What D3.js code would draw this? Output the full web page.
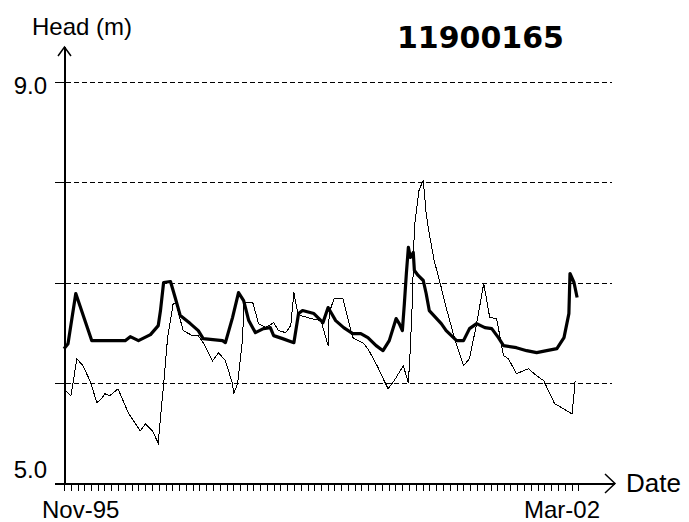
<!DOCTYPE html>
<html lang="en">

<head>
  <meta charset="UTF-8">
  <title>11900165</title>
  <style>
    html,
    body {
      margin: 0;
      padding: 0;
      background: #fff;
    }

    text {
      font-family: 'Liberation Sans', Arial, sans-serif;
      font-size: 24px;
      fill: #000;
    }

    .title {
      font-family: 'DejaVu Sans', sans-serif;
      font-weight: bold;
      font-size: 30px;
    }
  </style>
  <script src="https://cdn.jsdelivr.net/npm/d3@7/dist/d3.min.js"></script>
</head>

<body>
  <svg id="chart"></svg>
  <script>
    //
    // Data
    //

    var wellId = '11900165'
    // simulated head (thick line)
    var simDates = ['1995-11-01', '1995-11-19', '1995-12-24', '1996-03-05', '1996-05-12', '1996-08-02',
      '1996-08-25', '1996-10-01', '1996-11-24', '1996-12-29', '1997-01-08', '1997-01-22', '1997-02-22',
      '1997-03-15', '1997-04-07', '1997-05-22', '1997-06-27', '1997-07-19', '1997-10-14', '1997-10-27',
      '1997-11-28', '1997-12-25', '1998-01-17', '1998-02-09', '1998-03-11', '1998-04-16', '1998-05-17',
      '1998-06-01', '1998-07-11', '1998-08-31', '1998-09-21', '1998-10-09', '1998-11-29', '1999-01-09',
      '1999-02-01', '1999-02-14', '1999-03-07', '1999-04-12', '1999-05-23', '1999-06-28', '1999-07-30',
      '1999-09-05', '1999-10-06', '1999-11-03', '1999-12-04', '1999-12-18', '2000-01-01', '2000-01-10',
      '2000-01-19', '2000-01-28', '2000-02-06', '2000-02-19', '2000-02-24', '2000-03-12', '2000-04-04',
      '2000-04-17', '2000-05-01', '2000-06-24', '2000-07-16', '2000-09-01', '2000-10-02', '2000-10-29',
      '2000-11-30', '2001-01-06', '2001-02-06', '2001-03-08', '2001-03-31', '2001-05-28', '2001-07-13',
      '2001-08-27', '2001-10-11', '2001-11-26', '2001-12-28', '2002-01-19', '2002-01-24', '2002-02-11',
      '2002-02-25']
    var simHead = [6.34, 6.39, 6.89, 6.42, 6.42, 6.42,
      6.46, 6.42, 6.48, 6.57, 6.72, 7.00, 7.01,
      6.85, 6.67, 6.59, 6.52, 6.44, 6.42, 6.40,
      6.65, 6.90, 6.82, 6.62, 6.50, 6.54, 6.55,
      6.47, 6.44, 6.40, 6.69, 6.72, 6.69, 6.60,
      6.75, 6.70, 6.62, 6.55, 6.49, 6.49, 6.45,
      6.37, 6.32, 6.42, 6.64, 6.59, 6.52, 6.79,
      7.09, 7.35, 7.25, 7.30, 7.12, 7.07, 7.02,
      6.89, 6.72, 6.59, 6.52, 6.42, 6.42, 6.54,
      6.59, 6.55, 6.54, 6.45, 6.37, 6.35, 6.32,
      6.30, 6.32, 6.34, 6.45, 6.69, 7.09, 7.00,
      6.85]

    // observed head (thin line)
    var obsDates = ['1995-11-05', '1995-11-19', '1995-12-02', '1995-12-11', '1995-12-29', '1996-01-25',
      '1996-02-26', '1996-03-28', '1996-04-20', '1996-05-03', '1996-05-25', '1996-07-01', '1996-08-16',
      '1996-10-09', '1996-11-01', '1996-12-02', '1996-12-29', '1997-01-12', '1997-01-21', '1997-02-09',
      '1997-02-22', '1997-03-06', '1997-03-19', '1997-04-20', '1997-06-01', '1997-06-27', '1997-07-19',
      '1997-08-30', '1997-09-26', '1997-10-27', '1997-11-28', '1997-12-03', '1997-12-21', '1998-01-13',
      '1998-01-17', '1998-02-27', '1998-03-25', '1998-04-26', '1998-06-01', '1998-06-23', '1998-07-25',
      '1998-08-17', '1998-08-31', '1998-09-18', '1998-10-01', '1998-11-16', '1998-12-31', '1999-02-01',
      '1999-02-06', '1999-02-28', '1999-04-08', '1999-04-30', '1999-05-23', '1999-07-12', '1999-08-04',
      '1999-09-14', '1999-10-11', '1999-10-29', '1999-11-25', '2000-01-05', '2000-01-28', '2000-02-06',
      '2000-02-15', '2000-02-24', '2000-03-16', '2000-04-04', '2000-04-17', '2000-04-26', '2000-05-23',
      '2000-06-24', '2000-07-16', '2000-08-22', '2000-10-02', '2000-10-29', '2000-11-30', '2001-01-01',
      '2001-01-28', '2001-02-28', '2001-03-31', '2001-04-22', '2001-05-28', '2001-07-21', '2001-08-27',
      '2001-09-28', '2001-11-16', '2001-12-19', '2002-02-02', '2002-02-11', '2002-02-16']
    var obsHead = [5.92, 5.90, 5.87, 5.99, 6.24, 6.17,
      6.02, 5.80, 5.85, 5.89, 5.87, 5.94, 5.70,
      5.52, 5.59, 5.52, 5.40, 5.75, 5.95, 6.45,
      6.62, 6.79, 6.79, 6.52, 6.47, 6.47, 6.40,
      6.22, 6.30, 6.22, 5.99, 5.89, 5.99, 6.45,
      6.80, 6.80, 6.59, 6.55, 6.60, 6.52, 6.50,
      6.57, 6.90, 6.69, 6.67, 6.64, 6.62, 6.37,
      6.70, 6.84, 6.84, 6.65, 6.45, 6.39, 6.32,
      6.15, 6.02, 5.94, 6.02, 6.17, 6.00, 6.35,
      6.82, 7.55, 7.92, 8.02, 7.69, 7.55, 7.22,
      6.95, 6.75, 6.45, 6.17, 6.24, 6.59, 6.99,
      6.65, 6.64, 6.27, 6.24, 6.09, 6.14, 6.07,
      6.02, 5.79, 5.75, 5.69, 5.89, 6.02]

    // axes
    var gridValues = [6, 7, 8, 9]
    var yLabelValues = [5, 9]
    var xStart = '1995-11-01'
    var xEnd = '2002-03-01'

    //
    // Variables
    //

    var width = 689
    var height = 522
    var parse = d3.timeParse('%Y-%m-%d')
    var fmtY = d3.format('.1f')
    var fmtX = d3.timeFormat('%b-%y')

    var svg = d3.select('#chart').attr('width', width).attr('height', height)

    var x = d3.scaleTime()
      .domain([parse(xStart), parse(xEnd)])
      .range([64, 578])
    var y = d3.scaleLinear()
      .domain([5, 9])
      .range([483, 82])

    var axisLeft = x.range()[0]
    var axisBottom = y.range()[0]
    var axisRight = 612
    var axisTop = 47

    //
    // Grid
    //

    svg.append('g')
      .selectAll('line')
      .data(gridValues)
      .join('line')
      .attr('x1', axisLeft + 2)
      .attr('x2', axisRight)
      .attr('y1', function (d) { return Math.round(y(d)) + 0.5 })
      .attr('y2', function (d) { return Math.round(y(d)) + 0.5 })
      .attr('stroke', '#000')
      .attr('stroke-dasharray', '5,3')
      .attr('shape-rendering', 'crispEdges')

    // y ticks
    svg.append('g')
      .selectAll('line')
      .data(gridValues)
      .join('line')
      .attr('x1', axisLeft - 9)
      .attr('x2', axisLeft)
      .attr('y1', function (d) { return Math.round(y(d)) + 0.5 })
      .attr('y2', function (d) { return Math.round(y(d)) + 0.5 })
      .attr('stroke', '#000')
      .attr('shape-rendering', 'crispEdges')

    //
    // Axes
    //

    var axes = svg.append('g')
      .attr('stroke', '#000')
      .attr('fill', 'none')
      .attr('shape-rendering', 'crispEdges')

    axes.append('line')
      .attr('x1', axisLeft + 0.5).attr('x2', axisLeft + 0.5)
      .attr('y1', axisBottom).attr('y2', axisTop)
      .attr('stroke-width', 2)
    axes.append('line')
      .attr('x1', axisLeft - 9).attr('x2', axisRight + 3)
      .attr('y1', axisBottom + 0.5).attr('y2', axisBottom + 0.5)
      .attr('stroke-width', 2)

    // arrow heads
    axes.append('path')
      .attr('d', d3.line()([[axisLeft - 6, axisTop + 9], [axisLeft + 0.5, axisTop], [axisLeft + 7, axisTop + 9]]))
      .attr('shape-rendering', 'auto')
      .attr('stroke-width', 1.5)
    axes.append('path')
      .attr('d', d3.line()([[axisRight - 7, axisBottom - 9], [axisRight + 3, axisBottom + 0.5], [axisRight - 7, axisBottom + 10]]))
      .attr('shape-rendering', 'auto')
      .attr('stroke-width', 1.5)

    // monthly ticks under the x axis
    axes.append('g')
      .selectAll('line')
      .data(x.ticks(d3.timeMonth.every(1)))
      .join('line')
      .attr('x1', function (d) { return Math.round(x(d)) + 0.5 })
      .attr('x2', function (d) { return Math.round(x(d)) + 0.5 })
      .attr('y1', axisBottom)
      .attr('y2', axisBottom + 8)

    //
    // Series
    //

    var line = d3.line()
      .x(function (d) { return x(d[0]) })
      .y(function (d) { return y(d[1]) })

    var sim = simDates.map(function (d, i) { return [parse(d), simHead[i]] })
    var obs = obsDates.map(function (d, i) { return [parse(d), obsHead[i]] })

    svg.append('path')
      .datum(obs)
      .attr('d', line)
      .attr('fill', 'none')
      .attr('stroke', '#000')
      .attr('stroke-width', 1)
      .attr('shape-rendering', 'crispEdges')

    svg.append('path')
      .datum(sim)
      .attr('d', line)
      .attr('fill', 'none')
      .attr('stroke', '#000')
      .attr('stroke-width', 3.2)
      .attr('stroke-linejoin', 'round')

    //
    // Text
    //

    svg.append('g')
      .selectAll('text')
      .data(yLabelValues)
      .join('text')
      .attr('x', 47)
      .attr('y', function (d) { return d === 5 ? y(d) - 5 : y(d) + 12 })
      .attr('text-anchor', 'end')
      .text(fmtY)

    svg.append('text')
      .attr('x', x(parse(xStart)) - 22)
      .attr('y', 518)
      .text(fmtX(parse(xStart)))
    svg.append('text')
      .attr('x', x(parse(xEnd)) + 22)
      .attr('y', 518)
      .attr('text-anchor', 'end')
      .text(fmtX(parse(xEnd)))

    svg.append('text')
      .attr('x', 32)
      .attr('y', 35)
      .text('Head (m)')
    svg.append('text')
      .attr('x', axisRight + 14)
      .attr('y', axisBottom + 9)
      .style('font-size', '26px')
      .text('Date')

    svg.append('text')
      .attr('class', 'title')
      .attr('x', 397)
      .attr('y', 48)
      .text(wellId)
  </script>
</body>

</html>
